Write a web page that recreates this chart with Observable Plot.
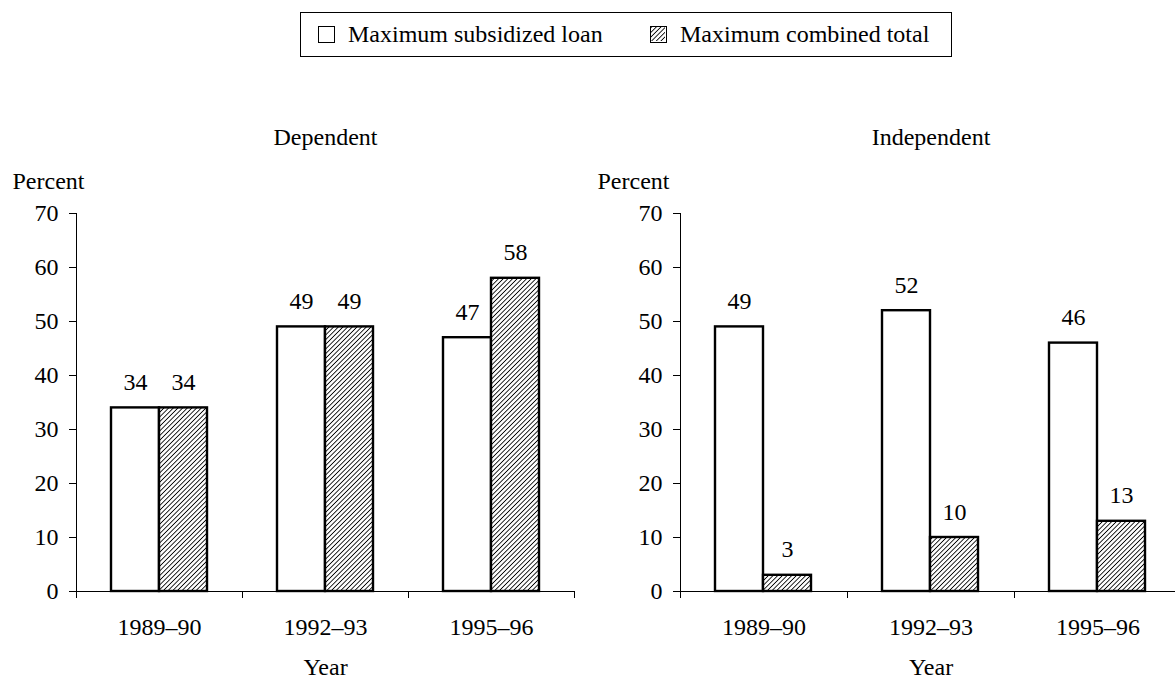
<!DOCTYPE html>
<html>
<head>
<meta charset="utf-8">
<script src="https://cdn.jsdelivr.net/npm/d3@7"></script>
<script src="https://cdn.jsdelivr.net/npm/@observablehq/plot@0.6"></script>
<style>
  html, body { margin: 0; padding: 0; background: #fff; overflow: hidden; }
  body { width: 1175px; height: 680px; position: relative; font-family: "Liberation Serif", "Times New Roman", serif; color: #000; }
  #legend { position: absolute; left: 300px; top: 12px; width: 652px; height: 45px; border: 1.5px solid #000; box-sizing: border-box; font-size: 24px; }
  .item { position: absolute; top: 0; height: 42px; display: flex; align-items: center; white-space: nowrap; }
  .sw { width: 17px; height: 17px; box-sizing: border-box; border: 1.5px solid #000; margin-right: 13px; }
  .panel { position: absolute; top: 100px; }
  .panel svg { max-width: none !important; }
</style>
</head>
<body>
<svg width="0" height="0" style="position:absolute">
  <defs>
    <pattern id="hatch" patternUnits="userSpaceOnUse" width="3.3" height="3.3" patternTransform="rotate(45)">
      <rect width="3.3" height="3.3" fill="#fff"></rect>
      <line x1="0" y1="0" x2="0" y2="3.3" stroke="#000" stroke-width="1.7"></line>
    </pattern>
  </defs>
</svg>
<div id="legend"></div>
<div id="left" class="panel" style="left:0px"></div>
<div id="right" class="panel" style="left:590px"></div>
<script>
// ---- data ----
const years = ["1989–90", "1992–93", "1995–96"];
const seriesNames = ["Maximum subsidized loan", "Maximum combined total"];
const dependentSubsidized = [34, 49, 47];
const dependentCombined = [34, 49, 58];
const independentSubsidized = [49, 52, 46];
const independentCombined = [3, 10, 13];
const yTicks = [0, 10, 20, 30, 40, 50, 60, 70];
const panelTitles = ["Dependent", "Independent"];
const yLabel = "Percent";
const xLabel = "Year";

// ---- legend ----
const legend = document.getElementById("legend");
const legendX = [17, 349];
seriesNames.forEach((name, i) => {
  const it = document.createElement("div");
  it.className = "item";
  it.style.left = legendX[i] + "px";
  const sw = document.createElement("div");
  sw.className = "sw";
  if (i === 1) {
    sw.innerHTML = '<svg width="14" height="14" style="display:block"><rect width="14" height="14" fill="url(#hatch)"></rect></svg>';
  }
  it.appendChild(sw);
  const t = document.createElement("span");
  t.textContent = name;
  it.appendChild(t);
  legend.appendChild(it);
});

const fills = ["white", "url(#hatch)"];
const FS = 24;

function panel(title, sub, comb, opts) {
  const {width, marginLeft, marginRight, percentDx} = opts;
  const height = 600, marginTop = 113, marginBottom = 109;
  const bw = (width - marginLeft - marginRight) / years.length;
  const outer = 35, barW = 48;
  const rows = [];
  years.forEach((y, i) => {
    rows.push({year: y, series: 0, value: sub[i]});
    rows.push({year: y, series: 1, value: comb[i]});
  });
  const insetFor = (s) => s === 0
    ? {insetLeft: outer, insetRight: bw - outer - barW}
    : {insetLeft: outer + barW, insetRight: bw - outer - 2 * barW};
  const dxFor = (s) => s === 0 ? outer + barW / 2 - bw / 2 : outer + 1.5 * barW - bw / 2;

  const marks = [];
  [0, 1].forEach(s => {
    const d = rows.filter(r => r.series === s);
    marks.push(Plot.barY(d, {x: "year", y: "value", fill: fills[s], stroke: "#000", strokeWidth: 2.4, ...insetFor(s)}));
    marks.push(Plot.text(d, {x: "year", y: "value", text: r => String(r.value), dx: dxFor(s), dy: -18, lineAnchor: "bottom", fontSize: FS}));
  });
  marks.push(
    Plot.ruleY([0], {stroke: "#000", strokeWidth: 1}),
    Plot.frame({anchor: "left", stroke: "#000", strokeWidth: 1}),
    Plot.axisY({ticks: yTicks, tickSize: 7, tickPadding: 11, label: null, fontSize: FS}),
    Plot.axisX({ticks: years, tickSize: 7, tickFormat: () => "", dx: -bw / 2, label: null}),
    Plot.axisX({ticks: [years[years.length - 1]], tickSize: 7, tickFormat: () => "", dx: bw / 2, label: null}),
    Plot.axisX({ticks: years, tickSize: 0, tickPadding: 26, label: null, fontSize: FS}),
    Plot.text([title], {frameAnchor: "top", dy: -76, fontSize: FS, lineAnchor: "middle"}),
    Plot.text([yLabel], {frameAnchor: "top-left", dx: percentDx, dy: -32, textAnchor: "start", lineAnchor: "middle", fontSize: FS}),
    Plot.text([xLabel], {frameAnchor: "bottom", dy: 76, lineAnchor: "middle", fontSize: FS})
  );
  return Plot.plot({
    width, height, marginTop, marginBottom, marginLeft, marginRight,
    style: {fontFamily: '"Liberation Serif", "Times New Roman", serif', fontSize: FS + "px", color: "#000", background: "transparent", overflow: "visible", maxWidth: "none"},
    x: {type: "band", domain: years, padding: 0},
    y: {domain: [0, 70]},
    marks
  });
}

document.getElementById("left").appendChild(panel(panelTitles[0], dependentSubsidized, dependentCombined, {width: 590, marginLeft: 76, marginRight: 16, percentDx: -64}));
document.getElementById("right").appendChild(panel(panelTitles[1], independentSubsidized, independentCombined, {width: 591, marginLeft: 90, marginRight: 0, percentDx: -83}));
</script>
</body>
</html>
